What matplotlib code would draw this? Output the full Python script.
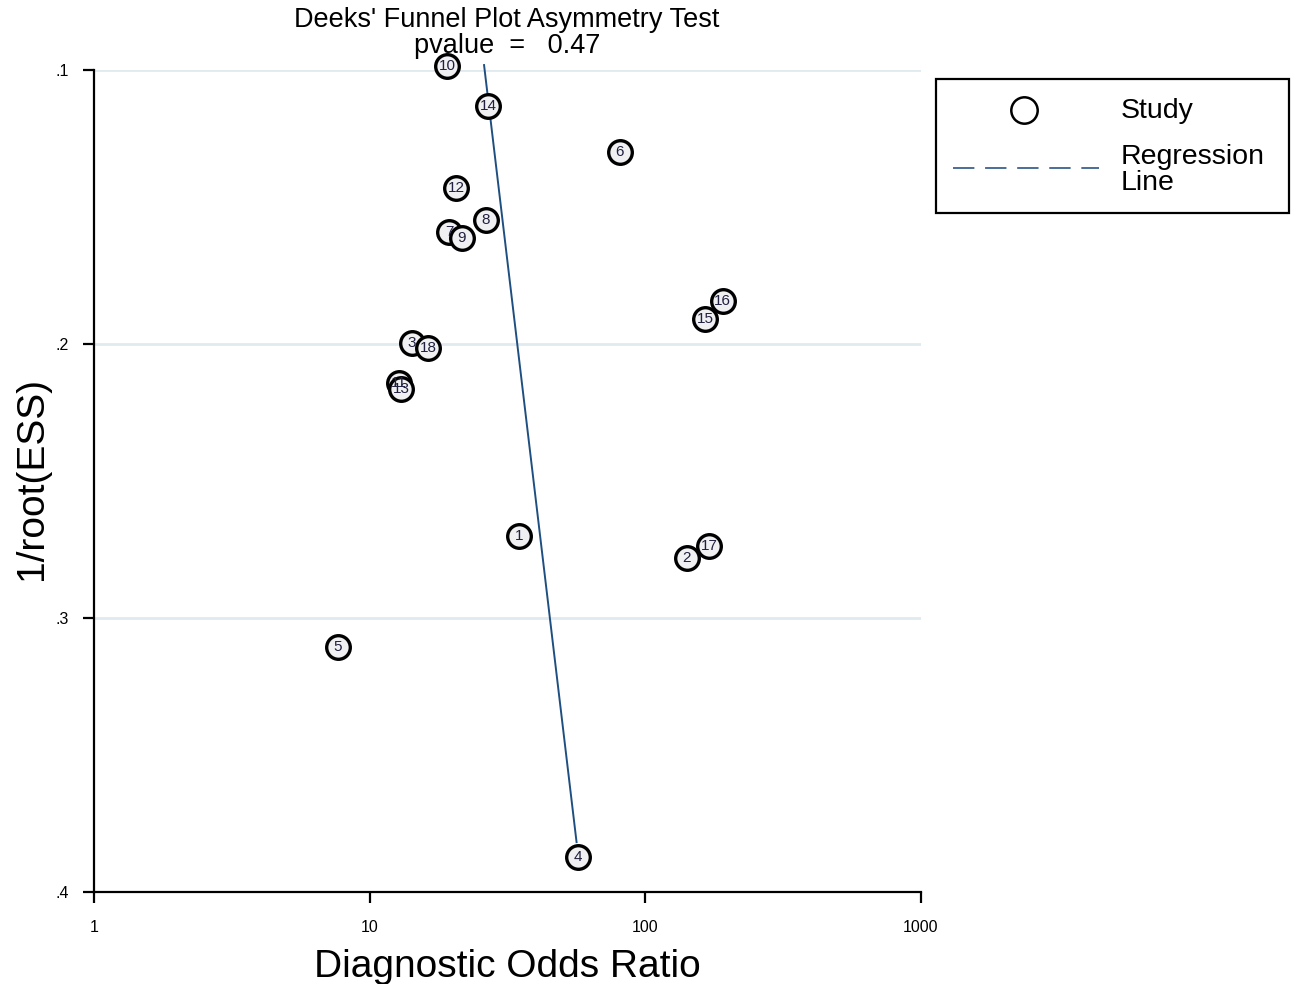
import matplotlib
matplotlib.use("Agg")
import matplotlib.pyplot as plt
from matplotlib.patches import Rectangle

plt.rcParams['font.family'] = ['Liberation Sans', 'DejaVu Sans']

# Study data: diagnostic odds ratio and 1/sqrt(ESS)
study_ids = ["10", "14", "6", "12", "8", "7", "9", "16", "15", "3", "18",
             "11", "13", "1", "17", "2", "5", "4"]
dor = [19.1, 26.9, 80.9, 20.6, 26.4, 19.4, 21.6, 191.0, 164.6, 14.2, 16.3,
       12.8, 13.0, 34.8, 170.0, 141.6, 7.67, 57.0]
inv_root_ess = [0.0985, 0.1131, 0.1299, 0.1431, 0.1547, 0.1591, 0.1613, 0.1843,
                0.1909, 0.1996, 0.2015, 0.2142, 0.2164, 0.2701, 0.2737, 0.2781,
                0.3106, 0.3872]

# Regression line endpoints
reg_x = [26.0, 56.3]
reg_y = [0.0982, 0.3818]

x_ticks = [1, 10, 100, 1000]
x_tick_labels = ["1", "10", "100", "1000"]
y_ticks = [0.1, 0.2, 0.3, 0.4]
y_tick_labels = [".1", ".2", ".3", ".4"]

title_line1 = "Deeks' Funnel Plot Asymmetry Test"
title_line2 = "pvalue  =   0.47"

W, H = 1298, 984
fig = plt.figure(figsize=(W / 100, H / 100), dpi=100)
ax = fig.add_axes([94 / W, 1 - 892 / H, (921 - 94) / W, (892 - 70) / H])

ax.set_xscale('log')
ax.set_xlim(1, 1000)
ax.set_ylim(0.4, 0.1)

for yv in y_ticks[:-1]:
    ax.axhline(yv, color='#e1eaee', lw=2, zorder=0)

ax.plot(reg_x, reg_y, color='#1f4f80', lw=1.4, clip_on=False, zorder=2)

for sid, xv, yv in zip(study_ids, dor, inv_root_ess):
    ax.plot([xv], [yv], marker='o', ms=17, mfc='#f0f0f2', mec='black',
            mew=2.4, ls='none', clip_on=False, zorder=3)
    ax.text(xv, yv, sid, ha='center', va='center', fontsize=11,
            color='#202040', zorder=4, clip_on=False)

for s in ['top', 'right']:
    ax.spines[s].set_visible(False)
for s in ['left', 'bottom']:
    ax.spines[s].set_linewidth(1.6)

ax.set_xticks(x_ticks)
ax.set_xticklabels(x_tick_labels)
ax.minorticks_off()
ax.set_yticks(y_ticks)
ax.set_yticklabels(y_tick_labels)
ax.tick_params(axis='both', length=8, width=1.6, labelsize=11.5, color='black')
ax.tick_params(axis='x', pad=12)
ax.tick_params(axis='y', pad=10)

ax.set_xlabel("Diagnostic Odds Ratio", fontsize=28, labelpad=10)
ax.set_ylabel("1/root(ESS)", fontsize=28)
ax.yaxis.set_label_coords((50 - 94) / 827, 0.503)

fig.text(507 / W, 1 - 27 / H, title_line1, ha='center', va='baseline',
         fontsize=19.5)
fig.text(507 / W, 1 - 53 / H, title_line2, ha='center', va='baseline',
         fontsize=19.5)

# Legend box
lax = fig.add_axes([936 / W, 1 - 213 / H, (1289 - 936) / W, (213 - 79) / H])
lax.set_xlim(0, 353)
lax.set_ylim(134, 0)
lax.axis('off')
lax.add_patch(Rectangle((0, 0), 353, 134, fill=False, ec='black', lw=1.6,
                        clip_on=False))
lax.plot([88], [31], marker='o', ms=19, mfc='white', mec='black', mew=1.8)
lax.plot([17, 163], [89, 89], color='#4a6e98', lw=1.4, ls=(0, (11, 5.5)))
lax.text(185, 32, "Study", fontsize=20.5, va='center', ha='left')
lax.text(185, 91, "Regression\nLine", fontsize=20.5, va='center', ha='left',
         linespacing=1.05)

fig.savefig("out.png", dpi=100, facecolor='white')
